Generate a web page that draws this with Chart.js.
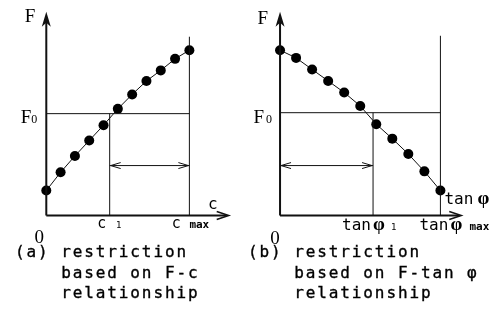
<!DOCTYPE html>
<html>
<head>
<meta charset="utf-8">
<script src="https://cdn.jsdelivr.net/npm/chart.js@4"></script>
<style>
    html, body { margin: 0; padding: 0; background: #fff; }
    #wrap { position: relative; width: 504px; height: 329px; overflow: hidden; }
    canvas { position: absolute; top: 0; }
    .caption {
        position: absolute;
        font-family: "DejaVu Sans Mono", monospace;
        font-size: 16px;
        letter-spacing: 1.9px;
        line-height: 20.5px;
        white-space: pre;
        color: #000;
        -webkit-text-stroke: 0.35px #000;
    }
</style>
</head>
<body>
<div id="wrap">
    <canvas id="chartC" width="252" height="260" style="left:0"></canvas>
    <canvas id="chartTan" width="252" height="260" style="left:252px"></canvas>
    <div class="caption" style="left:15px; top:242px">(a) restriction
    based on F-c
    relationship</div>
    <div class="caption" style="left:248px; top:242px">(b) restriction
    based on F-tan φ
    relationship</div>
</div>
<script>
// F against cohesion c
const cValues = [0, 1, 2, 3, 4, 5, 6, 7, 8, 9, 10];
const fcValues = [2.6, 4.5, 6.2, 7.8, 9.4, 11.1, 12.6, 14.0, 15.1, 16.3, 17.2];
const fcF0 = 10.6;
const c1 = 4.43;
const cMax = 10;

// F against tan(phi)
const tanValues = [0, 1, 2, 3, 4, 5, 6, 7, 8, 9, 10];
const ftanValues = [17.2, 16.4, 15.2, 14.0, 12.8, 11.4, 9.5, 8.0, 6.4, 4.6, 2.6];
const ftanF0 = 10.7;
const tan1 = 5.8;
const tanMax = 10;

const SERIF = '"Liberation Serif", "Times New Roman", serif';
const MONO = '"DejaVu Sans Mono", monospace';

const lineSet = (data) => ({
    data: data,
    showLine: true,
    borderColor: '#111',
    borderWidth: 1,
    pointRadius: 0,
    fill: false
});

const curveSet = (xs, ys) => ({
    data: xs.map((x, i) => ({x: x, y: ys[i]})),
    showLine: true,
    borderColor: '#111',
    borderWidth: 1,
    pointRadius: 5,
    pointBorderWidth: 0,
    pointBackgroundColor: '#000',
    fill: false
});

const text = (ctx, s, x, y, font, align) => {
    ctx.font = font;
    ctx.textAlign = align || 'left';
    ctx.textBaseline = 'alphabetic';
    ctx.fillStyle = '#000';
    ctx.fillText(s, x, y);
};

const openHead = (ctx, x, y, dir, len, spread) => {
    // dir: +1 points right, -1 points left
    ctx.beginPath();
    ctx.moveTo(x - dir * len, y - spread);
    ctx.lineTo(x, y);
    ctx.lineTo(x - dir * len, y + spread);
    ctx.stroke();
};

// axes with arrow heads, the double arrow and the labels
const decorPlugin = {
    id: 'decor',
    afterDatasetsDraw(chart, args, opts) {
        const ctx = chart.ctx;
        const xs = chart.scales.x;
        const ys = chart.scales.y;
        const x0 = xs.getPixelForValue(0);
        const y0 = ys.getPixelForValue(0);
        const xEnd = xs.getPixelForValue(opts.xEnd);
        const yTop = ys.getPixelForValue(opts.yTop);

        ctx.save();
        ctx.strokeStyle = '#111';
        ctx.fillStyle = '#111';
        ctx.lineWidth = 2;
        ctx.beginPath();
        ctx.moveTo(x0, y0);
        ctx.lineTo(x0, yTop + 6);
        ctx.moveTo(x0, y0);
        ctx.lineTo(xEnd - 2, y0);
        ctx.stroke();

        // vertical arrow head
        ctx.beginPath();
        ctx.moveTo(x0, yTop);
        ctx.lineTo(x0 + 4.5, yTop + 15);
        ctx.lineTo(x0, yTop + 11);
        ctx.lineTo(x0 - 4.5, yTop + 15);
        ctx.closePath();
        ctx.fill();

        // horizontal arrow head
        ctx.lineWidth = 1.5;
        openHead(ctx, xEnd, y0, 1, 12, 4);

        // double arrow for the admissible range
        const ay = ys.getPixelForValue(opts.range.y);
        const a1 = xs.getPixelForValue(opts.range.from);
        const a2 = xs.getPixelForValue(opts.range.to);
        ctx.lineWidth = 1;
        ctx.beginPath();
        ctx.moveTo(a1, ay);
        ctx.lineTo(a2, ay);
        ctx.stroke();
        openHead(ctx, a1 + 1, ay, -1, 10, 3);
        openHead(ctx, a2 - 1, ay, 1, 10, 3);
        ctx.restore();

        opts.labels(ctx, xs, ys, x0, y0, xEnd, yTop);
    }
};

const makeChart = (id, xs, ys, f0, v1, vMax, lineTop, xMin, xMax, decor) => {
    new Chart(document.getElementById(id), {
        type: 'scatter',
        data: {
            datasets: [
                lineSet([{x: 0, y: f0}, {x: vMax, y: f0}]),
                lineSet([{x: v1, y: 0}, {x: v1, y: f0}]),
                lineSet([{x: vMax, y: 0}, {x: vMax, y: lineTop}]),
                curveSet(xs, ys)
            ]
        },
        options: {
            responsive: false,
            animation: false,
            events: [],
            layout: {padding: 0},
            plugins: {
                legend: {display: false},
                tooltip: {enabled: false},
                decor: decor
            },
            scales: {
                x: {type: 'linear', display: false, min: xMin, max: xMax},
                y: {type: 'linear', display: false, min: -4.1, max: 21.9}
            }
        },
        plugins: [decorPlugin]
    });
};

makeChart('chartC', cValues, fcValues, fcF0, c1, cMax, 18.6, -2.886, 14.027, {
    xEnd: 12.75,
    yTop: 21.2,
    range: {y: 5.2, from: c1, to: cMax},
    labels: (ctx, xs, ys, x0, y0, xEnd) => {
        const f0y = ys.getPixelForValue(fcF0);
        const p1 = xs.getPixelForValue(c1);
        const pm = xs.getPixelForValue(cMax);
        text(ctx, 'F', x0 - 11, 22, '19px ' + SERIF, 'right');
        text(ctx, 'F', x0 - 15, f0y + 9, '19px ' + SERIF, 'right');
        text(ctx, '0', x0 - 15, f0y + 9, '12px ' + SERIF, 'left');
        text(ctx, '0', x0 - 7, y0 + 27, '19px ' + SERIF, 'center');
        text(ctx, 'c', xEnd - 16, y0 - 7, '16px ' + MONO, 'center');
        text(ctx, 'c', p1 - 8, y0 + 12, '15px ' + MONO, 'center');
        text(ctx, '1', p1 + 9, y0 + 12, '9px ' + MONO, 'center');
        text(ctx, 'c', pm - 13, y0 + 12, '15px ' + MONO, 'center');
        text(ctx, 'max', pm, y0 + 12, 'bold 11px ' + MONO, 'left');
    }
});

makeChart('chartTan', tanValues, ftanValues, ftanF0, tan1, tanMax, 18.7, -1.437, 13.653, {
    xEnd: 11.3,
    yTop: 21.2,
    range: {y: 5.2, from: 0, to: tan1},
    labels: (ctx, xs, ys, x0, y0) => {
        const f0y = ys.getPixelForValue(ftanF0);
        const p1 = xs.getPixelForValue(tan1);
        const pm = xs.getPixelForValue(tanMax);
        text(ctx, 'F', x0 - 12, 24, '19px ' + SERIF, 'right');
        text(ctx, 'F', x0 - 16, f0y + 10, '19px ' + SERIF, 'right');
        text(ctx, '0', x0 - 14, f0y + 10, '12px ' + SERIF, 'left');
        text(ctx, '0', x0 - 5, y0 + 28, '19px ' + SERIF, 'center');
        // tan phi beside the arrow head
        text(ctx, 'tan', pm + 4, y0 - 12, '16px ' + MONO, 'left');
        text(ctx, 'φ', pm + 37, y0 - 12, 'bold 19px ' + SERIF, 'left');
        // tan phi_1
        text(ctx, 'tan', p1 - 31, y0 + 14, '16px ' + MONO, 'left');
        text(ctx, 'φ', p1, y0 + 14, 'bold 19px ' + SERIF, 'left');
        text(ctx, '1', p1 + 18, y0 + 14, '9px ' + MONO, 'left');
        // tan phi_max
        text(ctx, 'tan', pm - 21, y0 + 14, '16px ' + MONO, 'left');
        text(ctx, 'φ', pm + 10, y0 + 14, 'bold 19px ' + SERIF, 'left');
        text(ctx, 'max', pm + 29, y0 + 14, 'bold 11px ' + MONO, 'left');
    }
});
</script>
</body>
</html>
